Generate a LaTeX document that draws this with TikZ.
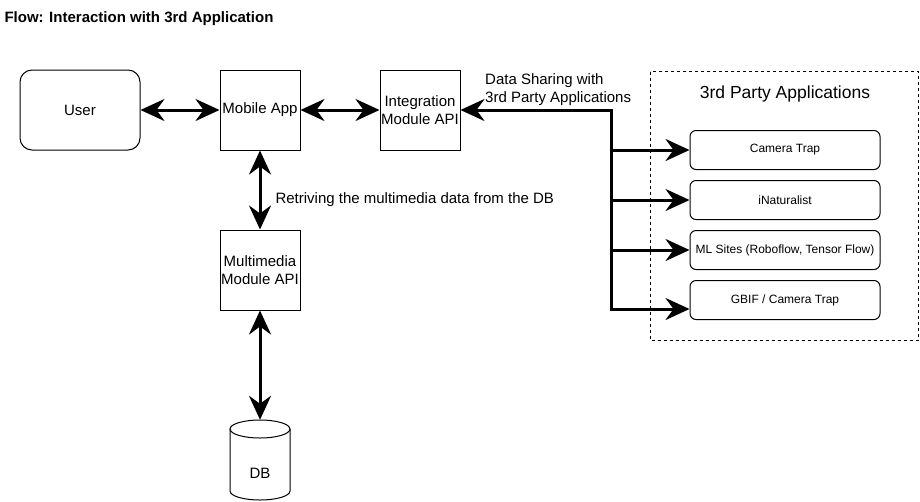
\documentclass[tikz,border=0pt]{standalone}
\usepackage{fontspec}
\setmainfont{Liberation Sans}
\usetikzlibrary{arrows.meta}
\tikzset{box/.style = {draw, line width = 1, minimum width = 80, minimum height = 80, inner sep = 1, align = center}}
\tikzset{appbox/.style = {draw, line width = 1, rounded corners = 6, minimum width = 190, minimum height = 39, inner sep = 1, font = \fontsize{12}{14}\selectfont}}
\tikzset{link/.style = {line width = 3pt, {Stealth[length = 24pt, width = 22pt, inset = 8pt]}-{Stealth[length = 24pt, width = 22pt, inset = 8pt]}}}
\tikzset{branch/.style = {line width = 3pt, -{Stealth[length = 24pt, width = 22pt, inset = 8pt]}}}

\begin{document}
\begin{tikzpicture}[x = 1pt, y = -1pt, font = \fontsize{15}{18}\selectfont]
        \useasboundingbox [fill = white] (0, 0) rectangle (920, 501);
        \node [anchor = west, font = \fontsize{15}{18}\selectfont\bfseries] (title) at (1, 19) {Flow: Interaction with 3rd Application};
        \node [box, rounded corners = 12, minimum width = 120] (user) at (80, 110) {User};
        \node [box] (mobile) at (260, 110) {Mobile App};
        \node [box] (integ) at (420, 110) {Integration\\Module API};
        \node [box] (media) at (260, 270) {Multimedia\\Module API};
        % database drum
        \node [minimum width = 60, minimum height = 80, inner sep = 0] (db) at (260, 460) {};
        \draw [line width = 1] (230, 429) -- (230, 491) arc [start angle = 180, end angle = 0, x radius = 30, y radius = 9] -- (290, 429);
        \draw [line width = 1] (260, 429) ellipse [x radius = 30, y radius = 9];
        \node at (260, 473) {DB};
        % third party side
        \draw [line width = 1, dash pattern = on 3pt off 3pt] (650, 71.5) rectangle (918.5, 340);
        \node [font = \fontsize{17.5}{21}\selectfont] (party) at (785, 94) {3rd Party Applications};
        \node [appbox] (cam) at (785, 150) {Camera Trap};
        \node [appbox] (inat) at (785, 200) {iNaturalist};
        \node [appbox] (ml) at (785, 250) {ML Sites (Roboflow, Tensor Flow)};
        \node [appbox] (gbif) at (785, 300) {GBIF / Camera Trap};
        \coordinate (bus) at (611, 110);
        \coordinate (bus end) at (611, 309);
        % links
        \draw [link] (user) -- (mobile);
        \draw [link] (mobile) -- (integ);
        \draw [link] (mobile) -- (media);
        \draw [link] (media) -- (db);
        \draw [link] (integ.east |- bus) -- (bus) -- (bus end) -- (bus end -| gbif.west);
        \foreach \app in {cam, inat, ml}
          \draw [branch] (bus |- \app.west) -- (\app.west);
        \node [anchor = west] (retrieve) at (272, 200) {Retriving the multimedia data from the DB};
        \node [anchor = west, align = left, inner sep = 0] (share) at (485, 89.5) {Data Sharing with\\3rd Party Applications};
      \end{tikzpicture}
\end{document}
